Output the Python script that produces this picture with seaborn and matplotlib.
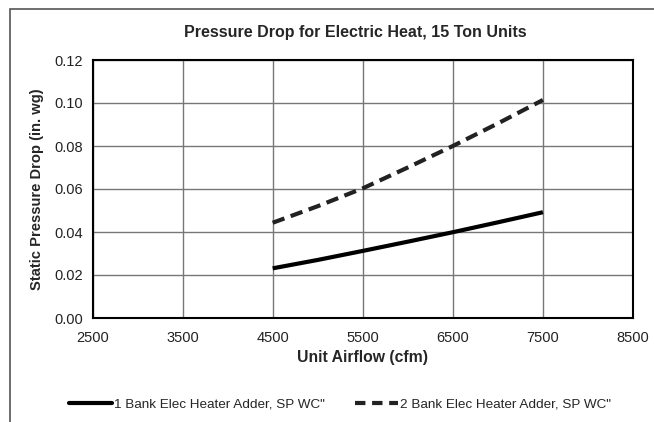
import matplotlib
matplotlib.use("Agg")
import matplotlib.pyplot as plt
import seaborn as sns
import pandas as pd
from matplotlib.patches import Rectangle
from matplotlib.lines import Line2D

airflow = [4500, 5000, 5500, 6000, 6500, 7000, 7500]
one_bank = [0.0231, 0.0270, 0.0312, 0.0355, 0.0399, 0.0445, 0.0492]
two_bank = [0.0443, 0.0520, 0.0603, 0.0700, 0.0800, 0.0905, 0.1014]
series_names = ['1 Bank Elec Heater Adder, SP WC"', '2 Bank Elec Heater Adder, SP WC"']
x_ticks = [2500, 3500, 4500, 5500, 6500, 7500, 8500]
y_ticks = [0.00, 0.02, 0.04, 0.06, 0.08, 0.10, 0.12]

df = pd.DataFrame({
    "airflow": airflow * 2,
    "drop": one_bank + two_bank,
    "series": [series_names[0]] * len(airflow) + [series_names[1]] * len(airflow),
})

sns.set_theme(style="white")
plt.rcParams["font.family"] = ["Liberation Sans", "DejaVu Sans"]

fig = plt.figure(figsize=(6.54, 4.22), dpi=100)
ax = fig.add_axes([92.5 / 654, 1 - 318 / 422, (633 - 92.5) / 654, (318 - 60) / 422])

sns.lineplot(data=df, x="airflow", y="drop", hue="series", style="series",
             palette=["black", "#222222"], dashes=[(1, 0), (3, 1.6)],
             linewidth=3, legend=False, ax=ax)

ax.set_xlim(2500, 8500)
ax.set_ylim(0, 0.12)
ax.set_xticks(x_ticks)
ax.set_xticklabels([str(v) for v in x_ticks])
ax.set_yticks(y_ticks)
ax.set_yticklabels([f"{v:.2f}" for v in y_ticks])
ax.grid(True, color="#777777", linewidth=1)
ax.tick_params(axis="both", length=0, labelsize=10.5, colors="#222222")
ax.tick_params(axis="x", pad=9)
ax.tick_params(axis="y", pad=7)
for s in ax.spines.values():
    s.set_color("black")
    s.set_linewidth(1.5)

ax.set_xlabel("Unit Airflow (cfm)", fontsize=11.3, fontweight="bold", labelpad=4)
ax.set_ylabel("Static Pressure Drop (in. wg)", fontsize=10.6, fontweight="bold", labelpad=7)
fig.text(355 / 654, 1 - 32 / 422, "Pressure Drop for Electric Heat, 15 Ton Units",
         ha="center", va="center", fontsize=11.5, fontweight="bold")

handles = [
    Line2D([0], [0], color="black", linewidth=3),
    Line2D([0], [0], color="#222222", linewidth=3, dashes=(2.5, 1.6)),
]
fig.legend(handles, series_names, loc="center", bbox_to_anchor=(340 / 654, 1 - 404 / 422),
           ncol=2, frameon=False, fontsize=9.7, handlelength=3.2, handletextpad=0.15,
           columnspacing=2.2)

# outer frame around the figure content
fig.patches.append(Rectangle((10 / 654, -0.1), 2, 1 - 9 / 422 + 0.1, transform=fig.transFigure,
                             fill=False, edgecolor="#555555", linewidth=1.2))

fig.savefig("out.png", dpi=100)
